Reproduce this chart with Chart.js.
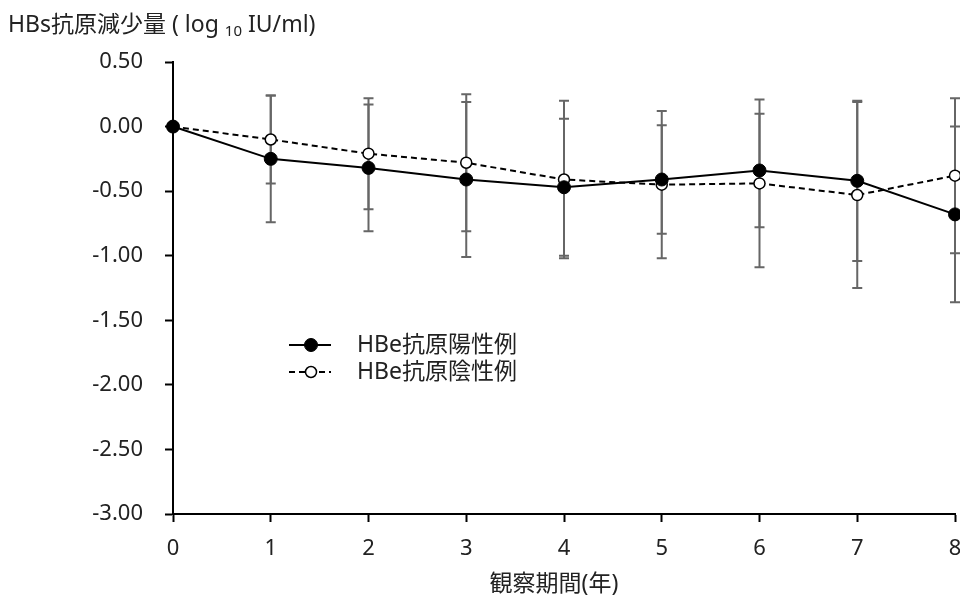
<!DOCTYPE html>
<html>
<head>
<meta charset="utf-8">
<script src="https://cdn.jsdelivr.net/npm/chart.js@4/dist/chart.umd.min.js"></script>
<style>
  body { margin: 0; background: #fff; }
  #wrap { width: 960px; height: 600px; }
</style>
</head>
<body>
<div id="wrap"><canvas id="hbsChart"></canvas></div>
<script>
// observation years and mean change of HBs antigen (log10 IU/ml) with SD
const years = [0, 1, 2, 3, 4, 5, 6, 7, 8]
const positiveMean = [0, -0.25, -0.32, -0.41, -0.47, -0.41, -0.34, -0.42, -0.68]
const positiveSd = [0, 0.49, 0.49, 0.60, 0.53, 0.42, 0.44, 0.62, 0.68]
const negativeMean = [0, -0.10, -0.21, -0.28, -0.41, -0.45, -0.44, -0.53, -0.38]
const negativeSd = [0, 0.34, 0.43, 0.53, 0.61, 0.57, 0.65, 0.72, 0.60]
const seriesNames = ['HBe抗原陽性例', 'HBe抗原陰性例']
const yMin = -3
const yMax = 0.5
const yStep = 0.5

const FONT = '"Noto Sans", "Noto Sans CJK JP", sans-serif'
const TEXT = '#222'

const toPoints = (means) => years.map((x, i) => ({ x: x, y: means[i] }))

// vertical SD bars, drawn under the lines
const errorBars = {
  id: 'errorBars',
  beforeDatasetsDraw(chart) {
    const { ctx, scales } = chart
    const sets = [[positiveMean, positiveSd], [negativeMean, negativeSd]]
    ctx.save()
    ctx.strokeStyle = '#666'
    ctx.lineWidth = 2
    sets.forEach(([means, sds]) => {
      years.forEach((x, i) => {
        if (!sds[i]) return
        const px = scales.x.getPixelForValue(x)
        const top = scales.y.getPixelForValue(means[i] + sds[i])
        const bottom = scales.y.getPixelForValue(means[i] - sds[i])
        ctx.beginPath()
        ctx.moveTo(px, top)
        ctx.lineTo(px, bottom)
        ctx.moveTo(px - 5, top)
        ctx.lineTo(px + 5, top)
        ctx.moveTo(px - 5, bottom)
        ctx.lineTo(px + 5, bottom)
        ctx.stroke()
      })
    })
    ctx.restore()
  }
}

// y axis title with subscript, x axis title and the legend box inside the plot
const annotations = {
  id: 'annotations',
  afterDraw(chart) {
    const { ctx, chartArea } = chart
    ctx.save()
    ctx.fillStyle = TEXT
    ctx.textBaseline = 'alphabetic'

    let x = 8
    const base = 32
    ctx.font = '23px ' + FONT
    const head = 'HBs抗原減少量 ( log '
    ctx.fillText(head, x, base)
    x += ctx.measureText(head).width
    ctx.font = '15px ' + FONT
    ctx.fillText('10', x, base + 4)
    x += ctx.measureText('10').width
    ctx.font = '23px ' + FONT
    ctx.fillText(' IU/ml)', x, base)

    ctx.textAlign = 'center'
    ctx.textBaseline = 'middle'
    ctx.fillText('観察期間(年)', (chartArea.left + chartArea.right) / 2 - 10, 584)
    ctx.textAlign = 'left'

    const lx = chartArea.left + 116
    const rows = [chartArea.top + 283, chartArea.top + 310]
    chart.data.datasets.forEach((ds, i) => {
      const y = rows[i]
      ctx.strokeStyle = '#000'
      ctx.lineWidth = 2
      ctx.setLineDash(ds.borderDash || [])
      ctx.beginPath()
      ctx.moveTo(lx, y)
      ctx.lineTo(lx + 42, y)
      ctx.stroke()
      ctx.setLineDash([])
      ctx.beginPath()
      ctx.arc(lx + 22, y, ds.pointRadius, 0, Math.PI * 2)
      ctx.fillStyle = ds.pointBackgroundColor
      ctx.fill()
      ctx.lineWidth = ds.pointBorderWidth
      ctx.stroke()
      ctx.fillStyle = TEXT
      ctx.font = '23px ' + FONT
      ctx.fillText(ds.label, lx + 68, y)
    })
    ctx.restore()
  }
}

new Chart(document.getElementById('hbsChart'), {
  type: 'line',
  data: {
    datasets: [
      {
        label: seriesNames[0],
        data: toPoints(positiveMean),
        borderColor: '#000',
        borderWidth: 2,
        pointRadius: 6.5,
        pointBackgroundColor: '#000',
        pointBorderColor: '#000',
        pointBorderWidth: 1,
        clip: false
      },
      {
        label: seriesNames[1],
        data: toPoints(negativeMean),
        borderColor: '#000',
        borderWidth: 2,
        borderDash: [6, 4],
        pointRadius: 5.5,
        pointBackgroundColor: '#fff',
        pointBorderColor: '#000',
        pointBorderWidth: 1.5,
        clip: false
      }
    ]
  },
  options: {
    responsive: true,
    maintainAspectRatio: false,
    animation: false,
    layout: { autoPadding: false, padding: { top: 62, right: 5, left: 0, bottom: 0 } },
    plugins: {
      legend: { display: false },
      tooltip: { enabled: false }
    },
    scales: {
      x: {
        type: 'linear',
        min: 0,
        max: 8,
        ticks: {
          stepSize: 1,
          padding: 14,
          color: TEXT,
          font: { family: FONT, size: 22 }
        },
        grid: { drawOnChartArea: false, tickLength: 8, tickWidth: 2, color: '#000' },
        border: { color: '#000', width: 2 },
        afterFit(scale) {
          scale.height = 86
          // let the last tick label run to the canvas edge
          scale.paddingLeft = 0
          scale.paddingRight = 0
        }
      },
      y: {
        min: yMin,
        max: yMax,
        ticks: {
          stepSize: yStep,
          padding: 22,
          color: TEXT,
          font: { family: FONT, size: 22 },
          callback: (v) => v.toFixed(2)
        },
        grid: { drawOnChartArea: false, tickLength: 8, tickWidth: 2, color: '#000' },
        border: { color: '#000', width: 2 },
        afterFit(scale) { scale.width = 173 }
      }
    }
  },
  plugins: [errorBars, annotations]
})
</script>
</body>
</html>
